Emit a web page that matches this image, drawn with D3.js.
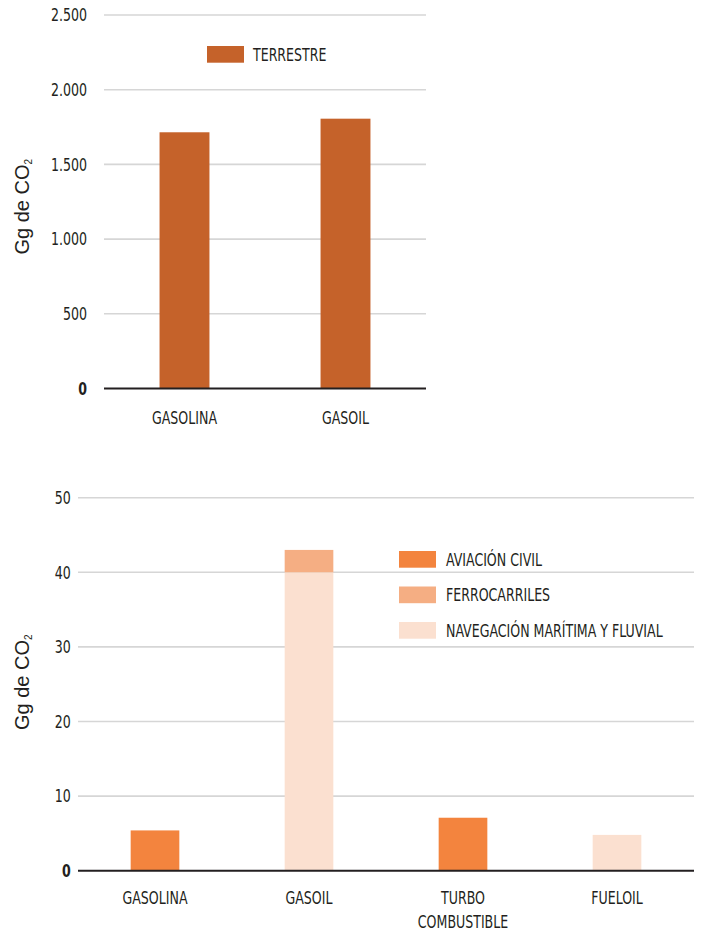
<!DOCTYPE html>
<html>
<head>
<meta charset="utf-8">
<script src="https://cdn.jsdelivr.net/npm/d3@7/dist/d3.min.js"></script>
<style>
  html, body { margin: 0; padding: 0; background: #ffffff; }
  svg { display: block; }
  .cond { font-family: "Liberation Sans Narrow", "DejaVu Sans Condensed", "Roboto", sans-serif; }
</style>
</head>
<body>
<svg id="chart" width="702" height="933"></svg>
<script>
// ---------- DATA ----------
const topCategories = ["GASOLINA", "GASOIL"];
const terrestre = [1715, 1806];
const topTicks = [0, 500, 1000, 1500, 2000, 2500];
const topMax = 2500;

const bottomCategories = ["GASOLINA", "GASOIL", "TURBO COMBUSTIBLE", "FUELOIL"];
const aviacionCivil = [5.4, 0, 7.1, 0];
const ferrocarriles = [0, 3.0, 0, 0];
const navegacion = [0, 40.0, 0, 4.8];
const bottomTicks = [0, 10, 20, 30, 40, 50];
const bottomMax = 50;

const seriesNames = ["AVIACIÓN CIVIL", "FERROCARRILES", "NAVEGACIÓN MARÍTIMA Y FLUVIAL"];
const topSeriesName = "TERRESTRE";

// ---------- STYLE ----------
const colTerrestre = "#c5622a";
const colAviacion = "#f3843e";
const colFerro = "#f5ae83";
const colNaveg = "#fbe0d0";
const gridCol = "#d6d6d6";
const axisCol = "#231f20";
const textCol = "#231f20";
const fontSize = 17.5;
const squeeze = 0.8;

const locale = d3.formatLocale({ decimal: ",", thousands: ".", grouping: [3], currency: ["", ""] });
const fmt = locale.format(",");

const svg = d3.select("#chart");

// condensed text helper (horizontal squeeze around anchor point)
function ctext(parent, x, y, str, anchor, opts) {
  opts = opts || {};
  const t = parent.append("text")
    .attr("class", "cond")
    .attr("transform", `translate(${x},${y}) scale(${squeeze},1)`)
    .attr("text-anchor", anchor)
    .attr("font-size", fontSize)
    .attr("font-weight", opts.bold ? "bold" : "normal")
    .attr("fill", textCol)
    .text(str);
  if (opts.middle) t.attr("dy", "0.36em");
  return t;
}

function yLabel(g, x, yc) {
  const t = g.append("text")
    .attr("transform", `translate(${x},${yc}) rotate(-90)`)
    .attr("text-anchor", "middle")
    .attr("font-family", "'Liberation Sans', Arial, sans-serif")
    .attr("font-size", 20)
    .attr("fill", textCol);
  t.append("tspan").text("Gg de CO");
  t.append("tspan").attr("font-size", 10).attr("dy", 3).text("2");
}

function drawGrid(g, y, ticks, x0, x1, labelX, formatter) {
  ticks.forEach(v => {
    if (v !== 0) {
      g.append("line")
        .attr("x1", x0).attr("x2", x1)
        .attr("y1", y(v)).attr("y2", y(v))
        .attr("stroke", gridCol).attr("stroke-width", 1.6);
    }
    ctext(g, labelX, y(v), formatter(v), "end", { bold: v === 0, middle: true });
  });
}

// ---------- TOP CHART ----------
{
  const g = svg.append("g");
  const x = d3.scaleBand().domain(topCategories).range([104, 426]).padding(0);
  const y = d3.scaleLinear().domain([0, topMax]).range([388.5, 15]);
  drawGrid(g, y, topTicks, 104, 426, 87, fmt);

  const bw = x.bandwidth() * 0.31;
  g.selectAll("rect.bar").data(topCategories).enter().append("rect")
    .attr("class", "bar")
    .attr("x", d => x(d) + (x.bandwidth() - bw) / 2)
    .attr("width", bw)
    .attr("y", (d, i) => y(terrestre[i]))
    .attr("height", (d, i) => y(0) - y(terrestre[i]))
    .attr("fill", colTerrestre);

  g.append("line").attr("x1", 104).attr("x2", 426)
    .attr("y1", y(0)).attr("y2", y(0))
    .attr("stroke", axisCol).attr("stroke-width", 2);

  topCategories.forEach(c => {
    ctext(g, x(c) + x.bandwidth() / 2, y(0) + 35.5, c, "middle");
  });

  // legend
  g.append("rect").attr("x", 207).attr("y", 46).attr("width", 37).attr("height", 16.7).attr("fill", colTerrestre);
  ctext(g, 253, 54.3, topSeriesName, "start", { middle: true });

  yLabel(g, 29, (y(0) + y(topMax)) / 2 + 5);
}

// ---------- BOTTOM CHART ----------
{
  const g = svg.append("g");
  const x = d3.scaleBand().domain(bottomCategories).range([78, 694]).padding(0);
  const y = d3.scaleLinear().domain([0, bottomMax]).range([870.7, 497.7]);
  drawGrid(g, y, bottomTicks, 78, 694, 70.7, d => String(d));

  const rows = bottomCategories.map((c, i) => ({
    cat: c, nav: navegacion[i], fer: ferrocarriles[i], avi: aviacionCivil[i]
  }));
  const keys = ["nav", "fer", "avi"];
  const colors = { nav: colNaveg, fer: colFerro, avi: colAviacion };
  const stacked = d3.stack().keys(keys)(rows);
  const bw = x.bandwidth() * 0.316;

  g.selectAll("g.series").data(stacked).enter().append("g")
    .attr("class", "series")
    .attr("fill", s => colors[s.key])
    .selectAll("rect").data(s => s.filter(d => d[1] - d[0] > 0)).enter().append("rect")
    .attr("x", d => x(d.data.cat) + (x.bandwidth() - bw) / 2)
    .attr("width", bw)
    .attr("y", d => y(d[1]))
    .attr("height", d => y(d[0]) - y(d[1]));

  g.append("line").attr("x1", 78).attr("x2", 694)
    .attr("y1", y(0)).attr("y2", y(0))
    .attr("stroke", axisCol).attr("stroke-width", 2);

  // x labels (wrap on spaces)
  bottomCategories.forEach(c => {
    c.split(" ").forEach((w, k) => {
      ctext(g, x(c) + x.bandwidth() / 2, y(0) + 33.3 + k * 24.3, w, "middle");
    });
  });

  // legend
  const legendColors = [colAviacion, colFerro, colNaveg];
  seriesNames.forEach((n, i) => {
    const yy = 551 + i * 35.5;
    g.append("rect").attr("x", 399).attr("y", yy).attr("width", 37).attr("height", 16.7).attr("fill", legendColors[i]);
    ctext(g, 446, yy + 8.4, n, "start", { middle: true });
  });

  yLabel(g, 29, (y(0) + y(bottomMax)) / 2 - 2);
}
</script>
</body>
</html>
